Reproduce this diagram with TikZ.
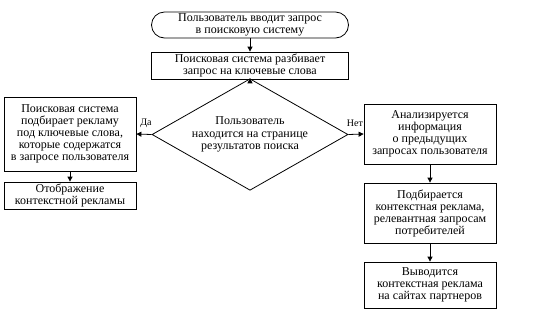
\documentclass[tikz,border=0pt]{standalone}
\usepackage{fontspec}
\setmainfont{Liberation Serif}
\usetikzlibrary{shapes.geometric,arrows.meta}

\tikzset{
  blok/.style={draw, line width=0.8pt, align=center, inner sep=0.5pt,
    font=\fontsize{12}{12}\selectfont},
  pusk/.style={blok, rounded corners=13pt},
  vybor/.style={draw, line width=0.8pt, diamond, inner sep=-10pt, align=center,
    minimum width=196pt, minimum height=73pt, font=\fontsize{12}{12.5}\selectfont},
  strel/.style={line width=0.8pt, -{Triangle[length=5pt,width=5pt]}},
  metka/.style={font=\fontsize{10}{11}\selectfont}
}

\begin{document}
\begin{tikzpicture}[x=1pt,y=-1pt]
      \useasboundingbox (0,0) rectangle (534,325);
      % centre column
      \node[pusk, minimum width=197pt, minimum height=26pt] (vvod) at (250,25)
        {Пользователь вводит запрос\\в поисковую систему};
      \node[blok, minimum width=197pt, minimum height=27pt] (razbor) at (250,65.5)
        {Поисковая система разбивает\\запрос на ключевые слова};
      \node[vybor] (stranica) at (250,134.5)
        {Пользователь\\находится на странице\\результатов поиска};
      % left branch
      \node[blok, minimum width=132pt, minimum height=74pt] (podbor) at (70,134)
        {Поисковая система\\подбирает рекламу\\под ключевые слова,\\которые содержатся\\в запросе пользователя};
      \node[blok, minimum width=132pt, minimum height=27pt] (pokaz) at (70,195.5)
        {Отображение\\контекстной рекламы};
      % right branch
      \node[blok, minimum width=132pt, minimum height=60pt] (analiz) at (430,134)
        {Анализируется\\информация\\о предыдущих\\запросах пользователя};
      \node[blok, minimum width=132pt, minimum height=60pt] (relev) at (430,213)
        {Подбирается\\контекстная реклама,\\релевантная запросам\\потребителей};
      \node[blok, minimum width=132pt, minimum height=46pt] (vyvod) at (430,285)
        {Выводится\\контекстная реклама\\на сайтах партнеров};
      % connectors
      \draw[strel] (vvod) -- (razbor);
      \draw[strel] (razbor) -- (stranica);
      \draw[strel] (stranica.west) -- (podbor.east);
      \draw[strel] (stranica.east) -- (analiz.west);
      \draw[strel] (podbor) -- (pokaz);
      \draw[strel] (analiz) -- (relev);
      \draw[strel] (relev) -- (vyvod);
      \node[metka] (da) at (146,123) {Да};
      \node[metka] (net) at (355,123) {Нет};
\end{tikzpicture}
\end{document}
